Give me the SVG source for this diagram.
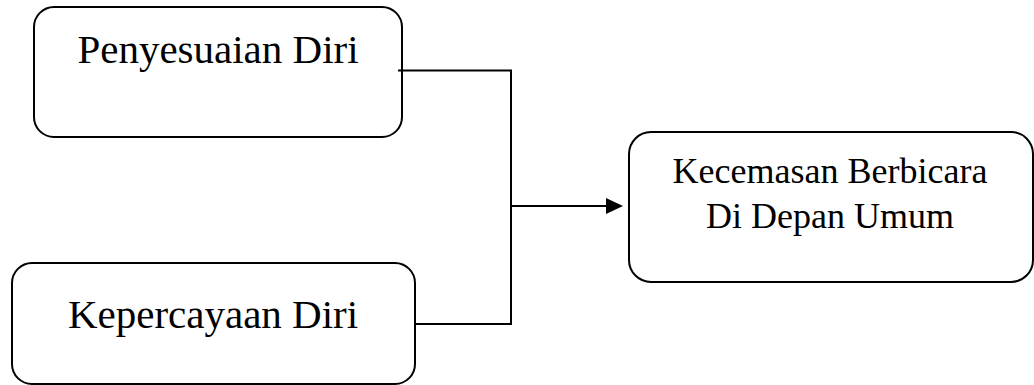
<svg xmlns="http://www.w3.org/2000/svg" width="1034" height="385" viewBox="0 0 1034 385">
<style>
.box{fill:#fff;stroke:#000;stroke-width:2}
.t{font-family:"Liberation Serif","Times New Roman",serif;fill:#000;text-anchor:middle}
.c{fill:none;stroke:#000;stroke-width:2}
</style>
<rect width="1034" height="385" fill="#fff"/>
<g id="node-penyesuaian">
<rect class="box" x="34" y="7" width="368" height="130" rx="20" ry="20"/>
<text class="t" x="218" y="63" font-size="41">Penyesuaian Diri</text>
</g>
<g id="node-kepercayaan">
<rect class="box" x="12" y="263" width="403" height="121" rx="20" ry="20"/>
<text class="t" x="213" y="328" font-size="41">Kepercayaan Diri</text>
</g>
<g id="node-kecemasan">
<rect class="box" x="629" y="132" width="404" height="150" rx="22" ry="22"/>
<text class="t" x="830" y="183" font-size="36">Kecemasan Berbicara</text>
<text class="t" x="830" y="228" font-size="36">Di Depan Umum</text>
</g>
<g id="connectors">
<polyline class="c" points="398,70.5 511,70.5 511,324 415,324"/>
<line class="c" x1="511" y1="206" x2="607" y2="206"/>
<path d="M606,198 L623,206 L606,214 Z" fill="#000"/>
</g>
</svg>
